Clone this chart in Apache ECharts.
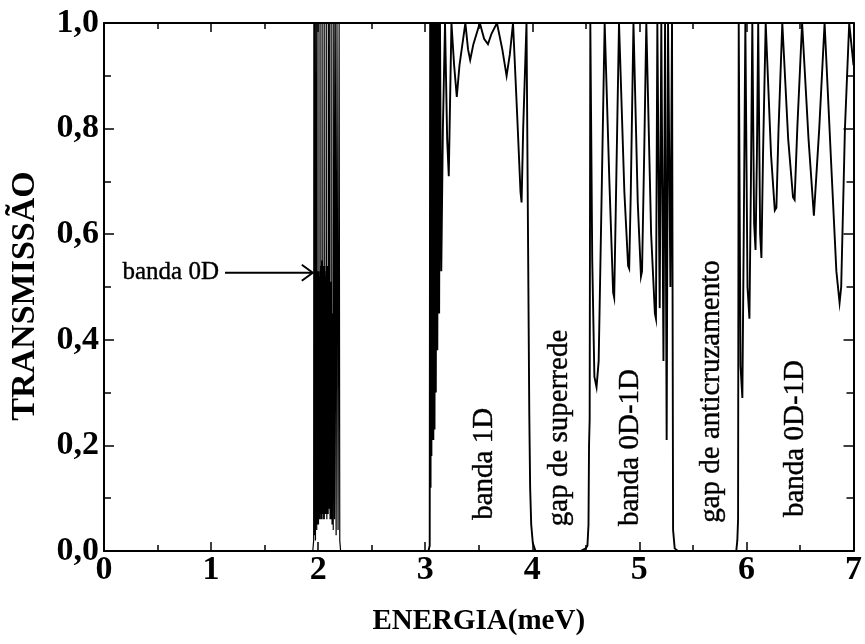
<!DOCTYPE html>
<html>
<head>
<meta charset="utf-8">
<script src="https://cdn.jsdelivr.net/npm/echarts@6/dist/echarts.min.js"></script>
<style>
html,body{margin:0;padding:0;background:#fff;}
#chart{width:865px;height:644px;}
</style>
</head>
<body>
<div id="chart"></div>
<script>
// ---------- DATA ----------
// x tick labels / y tick labels
const xTickLabels = ['0','1','2','3','4','5','6','7'];
const yTickLabels = ['0,0','0,2','0,4','0,6','0,8','1,0'];

// zero transmission before the 0D band
const eStart = [0.0, 1.95];
const tStart = [0.0, 0.0];

// band 0D (dense resonances)
const e0D = [1.955,1.958,1.960,1.963,1.966,1.969,1.972,1.975,1.978,1.981,1.984,1.987,
  1.9900,1.9915,1.9930,1.9945,1.9960,1.9975,1.9990,2.0005,2.0020,2.0035,2.0050,2.0065,
  2.0080,2.0095,2.0110,2.0125,2.0140,2.0155,2.0170,2.0185,2.0200,2.0215,2.0230,2.0245,
  2.0260,2.0275,2.0290,2.0305,2.0320,2.0335,2.0350,2.0365,2.0380,2.0395,2.0410,2.0425,
  2.0440,2.0455,2.0470,2.0485,2.0500,2.0515,2.0530,2.0545,2.0560,2.0575,2.0590,2.0605,
  2.0620,2.0635,2.0650,2.0665,2.0680,2.0695,2.0710,2.0725,2.0740,2.0755,2.0770,2.0785,
  2.0800,2.0815,2.0830,2.0845,2.0860,2.0875,2.0890,2.0905,2.0920,2.0935,2.0950,2.0965,
  2.0980,2.0995,2.1010,2.1025,2.1040,2.1055,2.1070,2.1085,
  2.1100,2.1115,2.1130,2.1145,2.1160,2.1175,2.1190,2.1205,2.1220,2.1235,2.1250,2.1265,
  2.1280,2.1300,2.136,2.141,2.146,2.153,2.160,2.168,2.176,2.186,2.196,2.202,2.210];
const t0D = [0.00,0.02,1.00,0.04,1.00,0.03,0.56,0.02,1.00,0.05,0.50,0.04,
  1.00,0.06,0.51,0.05,0.53,0.07,0.48,0.06,0.52,0.05,0.50,0.07,
  1.00,0.07,0.53,0.06,0.49,0.08,0.52,0.06,0.47,0.07,0.54,0.08,
  1.00,0.08,0.51,0.06,0.55,0.07,0.50,0.06,0.53,0.08,0.49,0.07,
  1.00,0.09,0.50,0.07,0.52,0.06,0.48,0.07,0.54,0.06,0.50,0.08,
  1.00,0.08,0.54,0.07,0.49,0.09,0.52,0.07,0.50,0.08,0.53,0.09,
  1.00,0.06,0.52,0.08,0.50,0.07,0.54,0.08,0.50,0.07,0.51,0.10,
  1.00,0.10,0.53,0.08,0.50,0.09,0.52,0.08,
  1.00,0.06,0.48,0.07,0.51,0.06,0.47,0.07,0.50,0.06,0.46,0.07,
  1.00,0.05,0.45,0.04,1.00,0.06,1.00,0.03,1.00,0.04,1.00,0.02,0.00];

// zero transmission between 0D band and 1D band
const eGap = [2.21, 3.03];
const tGap = [0.0, 0.0];

// band 1D
const e1D = [3.035,3.042,3.046,3.050,3.054,3.058,3.062,3.066,3.070,3.076,3.081,3.087,3.092,3.099,3.106,3.113,
  3.120,3.130,3.138,3.150,3.165,3.185,
  3.205,3.220,3.232,3.245,3.270,3.295,3.320,3.375,3.400,3.420,3.450,3.510,3.550,3.586,3.620,3.670,3.720,3.760,
  3.790,3.820,3.860,3.890,3.900,3.915,3.946,3.972,3.980,3.990,4.005,4.030];
const t1D = [0.00,0.01,1.00,0.12,1.00,0.18,1.00,0.22,1.00,0.21,1.00,0.23,1.00,0.30,1.00,0.38,
  1.00,0.45,1.00,0.53,0.80,1.00,
  0.78,0.71,0.85,1.00,0.92,0.86,0.92,1.00,0.95,0.93,0.96,1.00,0.97,0.96,0.98,1.00,0.95,0.90,
  0.94,1.00,0.82,0.68,0.66,0.80,1.00,0.26,0.12,0.05,0.015,0.00];

// band 0D-1D (first)
const e0D1Da = [4.450,4.500,4.515,4.525,4.530,4.536,4.542,4.560,4.580,4.600,4.620,4.650,4.676,4.720,4.755,4.765,
  4.780,4.810,4.860,4.895,4.905,4.920,4.945,4.985,5.015,5.025,5.045,5.065,5.110,5.145,5.155,5.168,5.190,5.205,
  5.225,5.240,5.255,5.268,5.290,5.305,5.315,5.330,5.360];
const t0D1Da = [0.00,0.005,0.01,0.05,0.20,0.25,1.00,0.55,0.33,0.31,0.36,0.70,1.00,0.70,0.49,0.48,
  0.65,1.00,0.68,0.54,0.535,0.68,1.00,0.66,0.52,0.53,0.75,1.00,0.60,0.45,0.44,1.00,0.46,1.00,
  0.36,1.00,0.21,1.00,0.50,1.00,0.04,0.005,0.00];

// band 0D-1D (second)
const e0D1Db = [5.905,5.915,5.922,5.928,5.945,5.962,5.975,5.990,6.010,6.028,6.042,6.055,6.072,6.085,6.098,6.110,
  6.128,6.140,6.155,6.180,6.230,6.265,6.280,6.300,6.335,6.390,6.435,6.450,6.475,6.520,6.580,6.630,6.645,6.680,
  6.730,6.790,6.840,6.870,6.885,6.920,6.960,6.985,7.000];
const t0D1Db = [0.00,0.02,0.06,1.00,0.35,0.29,0.60,1.00,0.50,0.44,0.70,1.00,0.62,0.57,0.75,1.00,
  0.60,0.555,0.75,1.00,0.75,0.645,0.65,0.80,1.00,0.78,0.67,0.665,0.80,1.00,0.78,0.635,0.635,0.80,
  1.00,0.74,0.53,0.47,0.50,0.80,1.00,0.95,0.92];

// annotations (data coordinates)
const annoText = ['banda 1D','gap de superrede','banda 0D-1D','gap de anticruzamento','banda 0D-1D'];
const annoE = [3.555, 4.255, 4.915, 5.675, 6.455];
const annoT = [0.165, 0.233, 0.196, 0.302, 0.213];
const label0D = 'banda 0D';
const arrowE = [1.13, 1.95];
const arrowT = 0.527;

// ---------- BUILD ----------
const pairs = (E, T) => E.map((e, i) => [e, T[i]]);
const data0D = pairs([].concat(eStart, e0D), [].concat(tStart, t0D));
const dataRest = pairs([].concat(eGap, e1D, e0D1Da, e0D1Db), [].concat(tGap, t1D, t0D1Da, t0D1Db));

const FONT = '"Liberation Serif","Times New Roman",serif';
const chart = echarts.init(document.getElementById('chart'), null, {renderer: 'canvas'});

const lineStyle = {color: '#000', width: 2};
function xAx(pos, showLabel) {
  return {
    type: 'value', position: pos, min: 0, max: 7, interval: 1,
    axisLine: {show: true, onZero: false, lineStyle: lineStyle},
    axisTick: {show: true, inside: true, length: 9, lineStyle: {color: '#000', width: 1.5}},
    minorTick: {show: true, splitNumber: 2, length: 6, lineStyle: {color: '#000', width: 1.5}},
    splitLine: {show: false}, minorSplitLine: {show: false},
    axisLabel: {show: showLabel, margin: 2, color: '#000', fontFamily: FONT, fontWeight: 'bold', fontSize: 34,
      formatter: v => xTickLabels[Math.round(v)]},
    name: showLabel ? 'ENERGIA(meV)' : '', nameLocation: 'middle', nameGap: 56,
    nameTextStyle: {color: '#000', fontFamily: FONT, fontWeight: 'bold', fontSize: 29}
  };
}
function yAx(pos, showLabel) {
  return {
    type: 'value', position: pos, min: 0, max: 1, interval: 0.2,
    axisLine: {show: true, onZero: false, lineStyle: lineStyle},
    axisTick: {show: true, inside: true, length: 10, lineStyle: {color: '#000', width: 1.5}},
    minorTick: {show: true, splitNumber: 2, length: 7, lineStyle: {color: '#000', width: 1.5}},
    splitLine: {show: false}, minorSplitLine: {show: false},
    axisLabel: {show: showLabel, margin: 5, color: '#000', fontFamily: FONT, fontWeight: 'bold', fontSize: 34,
      formatter: v => yTickLabels[Math.round(v * 5)]},
    name: showLabel ? 'TRANSMISSÃO' : '', nameLocation: 'middle', nameGap: 62,
    nameTextStyle: {color: '#000', fontFamily: FONT, fontWeight: 'bold', fontSize: 34, padding: [0, 18, 0, 0]}
  };
}

chart.setOption({
  animation: false,
  backgroundColor: '#fff',
  grid: {left: 100, right: 9, top: 23, bottom: 93, containLabel: false},
  xAxis: [xAx('bottom', true), xAx('top', false)],
  yAxis: [yAx('left', true), yAx('right', false)],
  series: [{
    type: 'line', data: data0D, xAxisIndex: 0, yAxisIndex: 0,
    showSymbol: false, symbol: 'none', lineStyle: {color: '#000', width: 1.2}, clip: true
  }, {
    type: 'line', data: dataRest, xAxisIndex: 0, yAxisIndex: 0,
    showSymbol: false, symbol: 'none', lineStyle: {color: '#000', width: 1.9, join: 'miter'}, clip: true
  }]
});

// annotations placed from data coordinates
const g = [];
annoText.forEach((txt, i) => {
  const p = chart.convertToPixel({gridIndex: 0}, [annoE[i], annoT[i]]);
  g.push({type: 'text', x: p[0], y: p[1], rotation: Math.PI / 2,
    style: {text: txt, fill: '#000', font: '29px ' + FONT, align: 'center', verticalAlign: 'middle',
      stroke: '#000', lineWidth: 0.4}});
});
const a0 = chart.convertToPixel({gridIndex: 0}, [arrowE[0], arrowT]);
const a1 = chart.convertToPixel({gridIndex: 0}, [arrowE[1], arrowT]);
g.push({type: 'text', x: a0[0] - 6, y: a0[1], style: {text: label0D, fill: '#000', font: '25px ' + FONT, align: 'right', verticalAlign: 'middle', stroke: '#000', lineWidth: 0.4}});
g.push({type: 'line', shape: {x1: a0[0], y1: a0[1], x2: a1[0], y2: a1[1]}, style: {stroke: '#000', lineWidth: 1.8}});
g.push({type: 'polyline', shape: {points: [[a1[0] - 11, a1[1] - 8], [a1[0], a1[1]], [a1[0] - 11, a1[1] + 8]]}, style: {stroke: '#000', lineWidth: 2, fill: null}});
chart.setOption({graphic: g});
</script>
</body>
</html>
